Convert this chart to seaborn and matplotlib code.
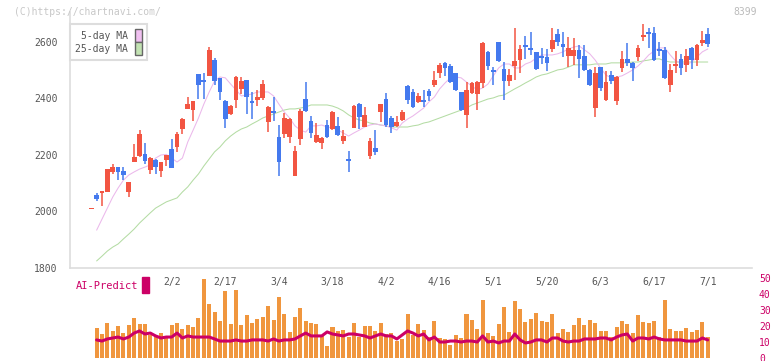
import numpy as np
import matplotlib.pyplot as plt
import matplotlib.transforms as mtransforms
from matplotlib.patches import Patch, Rectangle
import seaborn as sns

# daily candles (index 0 is the lone dash before the first full day)
opens = [2008, 2058, 2064, 2070, 2141, 2157, 2143, 2070, 2175, 2196,
         2203, 2147, 2182, 2143, 2182, 2221, 2228, 2292, 2363, 2360,
         2487, 2466, 2480, 2536, 2473, 2391, 2346, 2396, 2435, 2466,
         2392, 2396, 2403, 2318, 2357, 2265, 2273, 2265, 2127, 2257,
         2398, 2320, 2246, 2242, 2306, 2292, 2303, 2249, 2182, 2295,
         2380, 2299, 2196, 2225, 2352, 2398, 2331, 2303, 2324, 2444,
         2423, 2388, 2395, 2426, 2448, 2490, 2526, 2515, 2490, 2423,
         2342, 2419, 2416, 2455, 2565, 2501, 2600, 2504, 2462, 2515,
         2536, 2589, 2579, 2565, 2550, 2547, 2575, 2628, 2593, 2550,
         2550, 2572, 2550, 2501, 2366, 2511, 2395, 2483, 2391, 2508,
         2540, 2526, 2547, 2618, 2635, 2632, 2575, 2572, 2448, 2515,
         2540, 2519, 2579, 2536, 2596, 2628]
highs = [2008, 2065, 2073, 2152, 2168, 2157, 2157, 2104, 2239, 2288,
         2242, 2192, 2185, 2175, 2200, 2257, 2280, 2330, 2405, 2391,
         2487, 2490, 2582, 2543, 2473, 2395, 2376, 2480, 2476, 2466,
         2424, 2430, 2465, 2375, 2405, 2306, 2349, 2332, 2232, 2363,
         2458, 2338, 2313, 2264, 2324, 2355, 2334, 2288, 2214, 2377,
         2384, 2370, 2260, 2288, 2382, 2419, 2338, 2338, 2359, 2446,
         2433, 2419, 2430, 2433, 2497, 2526, 2529, 2522, 2490, 2423,
         2458, 2458, 2462, 2600, 2568, 2511, 2600, 2529, 2504, 2650,
         2589, 2621, 2635, 2565, 2579, 2575, 2650, 2646, 2635, 2618,
         2614, 2589, 2589, 2504, 2511, 2511, 2497, 2497, 2480, 2568,
         2596, 2529, 2589, 2664, 2650, 2653, 2600, 2582, 2522, 2568,
         2557, 2575, 2582, 2593, 2639, 2650]
lows = [2008, 2037, 2019, 2070, 2133, 2111, 2111, 2052, 2175, 2194,
        2168, 2133, 2133, 2122, 2161, 2154, 2211, 2274, 2363, 2320,
        2398, 2398, 2480, 2448, 2395, 2297, 2340, 2367, 2417, 2346,
        2328, 2374, 2396, 2282, 2320, 2127, 2260, 2242, 2127, 2236,
        2352, 2260, 2244, 2221, 2260, 2288, 2268, 2239, 2140, 2295,
        2292, 2299, 2186, 2200, 2317, 2299, 2278, 2299, 2320, 2380,
        2366, 2384, 2370, 2391, 2441, 2473, 2480, 2455, 2427, 2356,
        2296, 2416, 2359, 2437, 2501, 2448, 2530, 2395, 2444, 2465,
        2490, 2540, 2554, 2500, 2522, 2497, 2565, 2586, 2547, 2511,
        2519, 2473, 2497, 2444, 2334, 2426, 2391, 2451, 2377, 2494,
        2515, 2462, 2533, 2603, 2579, 2532, 2550, 2470, 2423, 2490,
        2483, 2494, 2504, 2515, 2586, 2582]
closes = [2008, 2044, 2073, 2150, 2157, 2141, 2130, 2104, 2193, 2274,
          2179, 2189, 2157, 2175, 2200, 2154, 2274, 2327, 2380, 2391,
          2448, 2458, 2572, 2462, 2424, 2328, 2373, 2476, 2462, 2406,
          2385, 2405, 2451, 2370, 2350, 2176, 2331, 2328, 2214, 2356,
          2356, 2278, 2271, 2260, 2264, 2352, 2271, 2267, 2179, 2373,
          2334, 2342, 2249, 2211, 2380, 2306, 2299, 2317, 2352, 2395,
          2370, 2409, 2388, 2409, 2465, 2518, 2508, 2458, 2430, 2359,
          2430, 2455, 2458, 2596, 2515, 2494, 2533, 2462, 2483, 2533,
          2575, 2582, 2572, 2504, 2543, 2526, 2607, 2600, 2582, 2579,
          2572, 2540, 2501, 2448, 2490, 2437, 2458, 2462, 2476, 2540,
          2526, 2508, 2579, 2625, 2628, 2536, 2568, 2473, 2501, 2522,
          2508, 2550, 2536, 2589, 2607, 2593]

# moving averages, volume and AI-Predict for days 1..115
ma5 = [1934, 1973, 2012, 2051, 2083, 2111, 2129, 2140, 2150, 2157,
       2165, 2189, 2200, 2202, 2189, 2175, 2189, 2246, 2288, 2331,
       2380, 2423, 2462, 2476, 2473, 2451, 2430, 2409, 2412, 2416,
       2423, 2423, 2423, 2409, 2380, 2352, 2331, 2303, 2288, 2281,
       2303, 2303, 2306, 2299, 2296, 2288, 2278, 2267, 2278, 2288,
       2299, 2306, 2310, 2306, 2303, 2296, 2288, 2313, 2327, 2338,
       2352, 2366, 2388, 2405, 2434, 2455, 2473, 2476, 2473, 2458,
       2444, 2430, 2437, 2451, 2480, 2508, 2522, 2522, 2508, 2508,
       2522, 2529, 2543, 2554, 2554, 2554, 2558, 2565, 2575, 2582,
       2586, 2572, 2558, 2536, 2508, 2483, 2473, 2476, 2480, 2490,
       2501, 2515, 2533, 2554, 2568, 2579, 2579, 2554, 2533, 2526,
       2519, 2529, 2547, 2565, 2575]
ma25 = [1825, 1842, 1860, 1874, 1885, 1903, 1920, 1938, 1959, 1977,
        1995, 2012, 2023, 2034, 2041, 2048, 2069, 2087, 2111, 2133,
        2161, 2186, 2211, 2228, 2250, 2267, 2281, 2292, 2299, 2310,
        2320, 2331, 2338, 2345, 2352, 2359, 2363, 2363, 2366, 2370,
        2377, 2377, 2377, 2377, 2373, 2366, 2356, 2342, 2331, 2324,
        2320, 2313, 2310, 2306, 2303, 2299, 2299, 2299, 2299, 2303,
        2306, 2313, 2317, 2324, 2331, 2338, 2345, 2352, 2359, 2366,
        2377, 2384, 2391, 2398, 2402, 2409, 2412, 2423, 2434, 2444,
        2455, 2465, 2476, 2483, 2487, 2494, 2501, 2504, 2511, 2519,
        2519, 2519, 2519, 2522, 2522, 2522, 2526, 2526, 2526, 2526,
        2529, 2529, 2533, 2536, 2540, 2540, 2533, 2529, 2529, 2529,
        2529, 2529, 2529, 2529, 2529]
volume = [18.9, 15, 21.9, 16.9, 20, 15.6, 20.6, 25, 21.3, 21.3,
          14.4, 13.8, 15.6, 13.1, 20.6, 21.9, 18.1, 20.6, 19.4, 25,
          49.4, 33.8, 28.8, 23.1, 41.9, 21.3, 42.5, 20.6, 26.9, 21.9,
          24.4, 25.6, 32.5, 23.8, 38.1, 27.5, 16.3, 25.6, 31.3, 23.1,
          21.9, 21.3, 13.8, 7.5, 19.4, 16.9, 17.5, 13.1, 21.9, 13.1,
          20, 20, 16.9, 21.9, 15, 15.6, 10.6, 11.9, 27.5, 14.4,
          21.3, 17.5, 13.1, 23.1, 12.5, 11.9, 8.1, 14.4, 12.5, 27.5,
          23.8, 18.1, 36.3, 15.6, 13.8, 21.3, 31.9, 16.3, 35.6, 30.6,
          22.5, 24.4, 28.1, 23.1, 22.5, 27.5, 15.6, 18.1, 16.3, 20.6,
          25, 20.6, 23.8, 21.9, 16.9, 16.9, 13.1, 19.4, 23.1, 21.3,
          15.6, 26.9, 22.5, 21.9, 23.1, 13.1, 36.3, 18.1, 16.9, 16.9,
          18.8, 16.3, 17.5, 22.5, 13.1]
ai_predict = [11.3, 10.6, 11.9, 12.5, 13.1, 11.9, 13.1, 15.6, 16.9, 15,
              15.6, 13.8, 12.5, 13.1, 13.1, 15.6, 12.5, 13.8, 13.1, 13.1,
              13.1, 13.1, 11.9, 10.6, 10.6, 10.6, 11.3, 10.6, 10.6, 11.3,
              11.3, 11.3, 10.6, 11.9, 10.6, 11.3, 11.3, 11.9, 13.8, 15.6,
              13.8, 13.8, 13.8, 16.3, 15, 14.4, 13.8, 15, 15, 14.4,
              13.8, 12.5, 13.8, 15, 13.8, 13.8, 11.9, 14.4, 16.9, 15.6,
              13.8, 15, 11.3, 13.1, 10, 10, 10.6, 10.6, 10, 10.6,
              10.6, 10, 13.8, 10, 10.6, 9.4, 10.6, 10.6, 15, 11.3,
              9.4, 10, 11.3, 11.3, 10, 12.5, 12.5, 10.6, 10, 10.6,
              10.6, 11.9, 11.9, 11.9, 12.5, 12.5, 11.3, 13.1, 14.4, 15,
              10.6, 12.5, 12.5, 11.9, 13.1, 11.9, 11.3, 11.3, 11.3, 11.3,
              10.6, 10.6, 10.6, 12.5, 11.3]
date_labels = ['2/2', '2/17', '3/4', '3/18', '4/2', '4/16', '5/1', '5/20', '6/3', '6/17', '7/1']
date_days = [15, 25, 35, 45, 55, 65, 75, 85, 95, 105, 115]

RED = '#f25542'
BLUE = '#4479ee'
ORANGE = '#f0963e'
CRIMSON = '#cc0066'
GRID = '#dddddd'
TXT = '#555555'

sns.set_style('white')
plt.rcParams['font.family'] = ['DejaVu Sans Mono']

fig = plt.figure(figsize=(7.72, 3.61), dpi=100)
ax = fig.add_axes([70 / 772, 93 / 361, 682 / 772, 256 / 361])
axv = fig.add_axes([70 / 772, 3 / 361, 682 / 772, 80 / 361])

days = np.arange(len(opens))
o = np.array(opens, float)
c = np.array(closes, float)
up = c >= o
colors = np.where(up, RED, BLUE)
body_lo = np.minimum(o, c)
body_h = np.maximum(np.abs(c - o), 5)

# wicks then bodies
ax.vlines(days, lows, highs, colors=colors, lw=1.1, zorder=2)
ax.bar(days, body_h, bottom=body_lo, width=0.88, color=colors, lw=0, zorder=3)

later = days[1:]
sns.lineplot(x=later, y=ma25, ax=ax, color='#b4dca4', lw=0.75, zorder=1)
sns.lineplot(x=later, y=ma5, ax=ax, color='#ebb8eb', lw=0.75, zorder=1)

x0, x1 = -3.97, 123.26
ax.set_xlim(x0, x1)
ax.set_ylim(1800, 2706)
ax.set_xticks(np.linspace(x0, x1, 12))
ax.set_xticklabels([])
ax.set_yticks([1800, 2000, 2200, 2400, 2600])
ax.tick_params(axis='x', length=6, width=1, color=GRID, direction='out')
ax.tick_params(axis='y', length=5, width=1, color=GRID, labelcolor=TXT,
               labelsize=7, pad=4)
for s in ['top', 'right']:
    ax.spines[s].set_visible(False)
for s in ['left', 'bottom']:
    ax.spines[s].set_color(GRID)
    ax.spines[s].set_linewidth(1.2)
ax.set_xlabel('')
ax.set_ylabel('')

trans = mtransforms.blended_transform_factory(ax.transData, ax.transAxes)
for d, lab in zip(date_days, date_labels):
    ax.text(d, -0.055, lab, transform=trans, ha='center', va='center',
            fontsize=7, color=TXT)

handles = [Patch(facecolor='#f0c0f0', edgecolor='#666666', lw=1),
           Patch(facecolor='#c2e2b2', edgecolor='#666666', lw=1)]
leg = ax.legend(handles, ['5-day MA', '25-day MA'], loc='upper left',
                bbox_to_anchor=(0, 0.953), borderaxespad=0, markerfirst=False,
                fontsize=7, handlelength=0.7, handleheight=1.55,
                handletextpad=0.7, labelspacing=0.08, borderpad=0.55,
                frameon=True, fancybox=False, framealpha=1)
leg.get_frame().set_edgecolor(GRID)
leg.get_frame().set_linewidth(1.5)
for t in leg.get_texts():
    t.set_color(TXT)

# volume panel
sns.barplot(x=later, y=volume, ax=axv, native_scale=True, color=ORANGE,
            saturation=1, width=0.75, errorbar=None, lw=0)
sns.lineplot(x=later, y=ai_predict, ax=axv, color=CRIMSON, lw=2.2)
axv.set_xlim(x0, x1)
axv.set_ylim(0, 50)
axv.set_yticks([0, 10, 20, 30, 40, 50])
axv.yaxis.tick_right()
axv.tick_params(axis='y', length=0, labelcolor=CRIMSON, labelsize=7, pad=5)
axv.set_xticks([])
axv.set_xlabel('')
axv.set_ylabel('')
for s in axv.spines.values():
    s.set_visible(False)
axv.patch.set_alpha(0)

fig.text(76 / 772, 1 - 286 / 361, 'AI-Predict', color=CRIMSON, fontsize=7.5,
         ha='left', va='center')
fig.patches.append(Rectangle((142 / 772, 1 - 293 / 361), 7 / 772, 16 / 361,
                             transform=fig.transFigure, color=CRIMSON))
fig.text(14 / 772, 1 - 12 / 361, '(C)https://chartnavi.com/', color='#c8c8c8',
         fontsize=7, ha='left', va='center')
fig.text(757 / 772, 1 - 12 / 361, '8399', color='#bbbbbb', fontsize=7,
         ha='right', va='center')

fig.savefig('out.png', dpi=100)
